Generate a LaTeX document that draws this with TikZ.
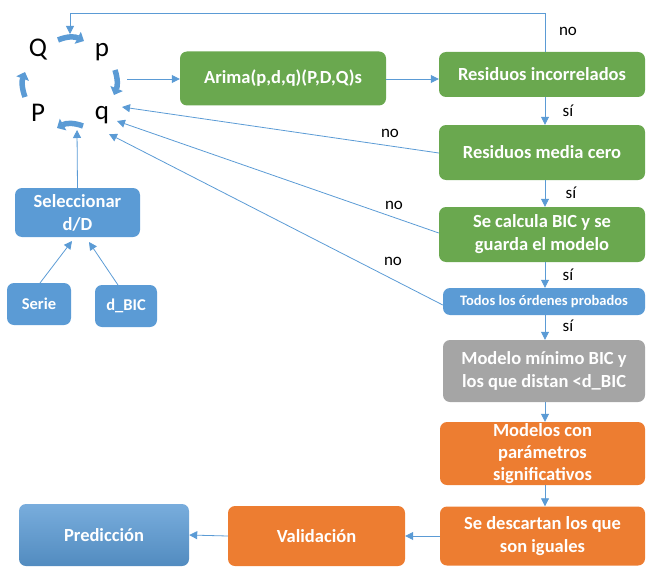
\documentclass[tikz,border=0pt]{standalone}
\usepackage{fontspec}
\setmainfont{Carlito}
\usetikzlibrary{arrows.meta,calc}
\definecolor{lnblue}{HTML}{5B9BD5}
\definecolor{boxgreen}{HTML}{6AA84F}
\definecolor{boxblue}{HTML}{5B9BD5}
\definecolor{boxgray}{HTML}{A5A5A5}
\definecolor{boxorange}{HTML}{ED7D31}
\tikzset{
  x=1pt, y=-1pt,
  box/.style={rounded corners=7pt, text=white, font=\bfseries\fontsize{18.5}{23}\selectfont,
              align=center, inner sep=1pt},
  gbox/.style={box, fill=boxgreen},
  bbox/.style={box, fill=boxblue},
  obox/.style={box, fill=boxorange},
  graybox/.style={box, fill=boxgray},
  link/.style={draw=lnblue, line width=0.8pt, -{Triangle[length=8pt,width=8pt]}},
  cyc/.style={draw=lnblue, line width=5.5pt, -{Triangle[length=7pt,width=13pt]}},
  letter/.style={font=\fontsize{27}{28}\selectfont, inner sep=0pt},
  lab/.style={font=\fontsize{17}{18}\selectfont, inner sep=0pt},
}
\begin{document}
\begin{tikzpicture}
\useasboundingbox (0,0) rectangle (647,567);

% seasonal / non-seasonal order letters
\node[letter] (Q) at (38,50) {Q};
\node[letter] (p) at (102,52) {p};
\node[letter] (P) at (38,113) {P};
\node[letter] (q) at (102,115) {q};

% cycle arrows between the orders
\draw[cyc] (58,40) to[bend left=25] (84,41);
\draw[cyc] (115,70) to[bend left=20] (114,95);
\draw[cyc] (83,126) to[bend right=25] (57,128);
\draw[cyc] (25,97) to[bend left=20] (25,72);
\coordinate (qpmid) at (70,34);
\coordinate (pqmid) at (127,79);
\coordinate (qPmid) at (77,130);

% flow boxes
\node[gbox, minimum width=206pt, minimum height=54pt] (arima) at (283,78.5) {Arima(p,d,q)(P,D,Q)s};
\node[gbox, minimum width=206pt, minimum height=45pt] (resinc) at (542,74.5) {Residuos incorrelados};
\node[gbox, minimum width=206pt, minimum height=55pt] (rescero) at (542,152.5) {Residuos media cero};
\node[gbox, minimum width=206pt, minimum height=55pt] (bic) at (542,234.5) {Se calcula BIC y se\\guarda el modelo};
\node[bbox, minimum width=202pt, minimum height=27pt, font=\bfseries\fontsize{14.5}{16}\selectfont] (todos) at (544,301.5) {Todos los órdenes probados};
\node[graybox, minimum width=202pt, minimum height=62pt] (minimo) at (544,371) {Modelo mínimo BIC y\\los que distan <d\_BIC};
\node[obox, minimum width=205pt, minimum height=63pt, font=\bfseries\fontsize{18.5}{22}\selectfont] (modelos) at (542.5,453.5) {Modelos con\\parámetros\\significativos};
\node[obox, minimum width=205pt, minimum height=59pt] (descartan) at (542.5,536) {Se descartan los que\\son iguales};
\node[obox, minimum width=177pt, minimum height=60pt] (valid) at (316.5,536) {Validación};
\node[box, top color=boxblue!82!white, bottom color=boxblue!90!black, minimum width=170pt, minimum height=62pt] (pred) at (104,535) {Predicción};
\node[bbox, minimum width=125pt, minimum height=49pt] (selec) at (77.5,212.5) {Seleccionar\\d/D};
\node[bbox, minimum width=64pt, minimum height=42pt, font=\bfseries\fontsize{16.5}{18}\selectfont] (serie) at (39,304) {Serie};
\node[bbox, minimum width=62pt, minimum height=42pt, font=\bfseries\fontsize{16.5}{18}\selectfont] (dbic) at (126,306) {d\_BIC};

% main flow
\draw[link] (pqmid) -- (pqmid -| arima.west);
\draw[link] (arima.east |- 0,79) -- (resinc.west |- 0,79);
\draw[link] (resinc.south -| 545,0) -- (rescero.north -| 545,0);
\draw[link] (rescero.south -| 545,0) -- (bic.north -| 545,0);
\draw[link] (bic.south -| 545,0) -- (todos.north -| 545,0);
\draw[link] (todos.south -| 545,0) -- (minimo.north -| 545,0);
\draw[link] (minimo.south -| 545,0) -- (modelos.north -| 545,0);
\draw[link] (modelos.south -| 545,0) -- (descartan.north -| 545,0);
\draw[link] (descartan.west) -- (valid.east);
\draw[link] (valid.west) -- (pred.east);

% loop back when residuals are correlated
\draw[link] (resinc.north -| 545,0) -- (545,13) -- (70,13) -- (qpmid);

% loops back to q
\coordinate (qa) at (122,107);
\coordinate (qb) at (117,121);
\coordinate (qc) at (109,134);
\draw[link] (rescero.west |- 0,153) -- (qa);
\draw[link] (bic.west |- 0,233) -- (qb);
\draw[link] (todos.west |- 0,305) -- (qc);

% d/D selection
\draw[link] (selec.north) -- (qPmid);
\draw[link] (40,283) -- (72,241);
\draw[link] (118,285) -- (89,242);

% branch labels
\node[lab] at (568,31) {no};
\node[lab] at (568,111) {sí};
\node[lab] at (571,193) {sí};
\node[lab] at (568,275) {sí};
\node[lab] at (568,326) {sí};
\node[lab] at (390,133) {no};
\node[lab] at (394,205) {no};
\node[lab] at (393,261) {no};
\end{tikzpicture}
\end{document}
